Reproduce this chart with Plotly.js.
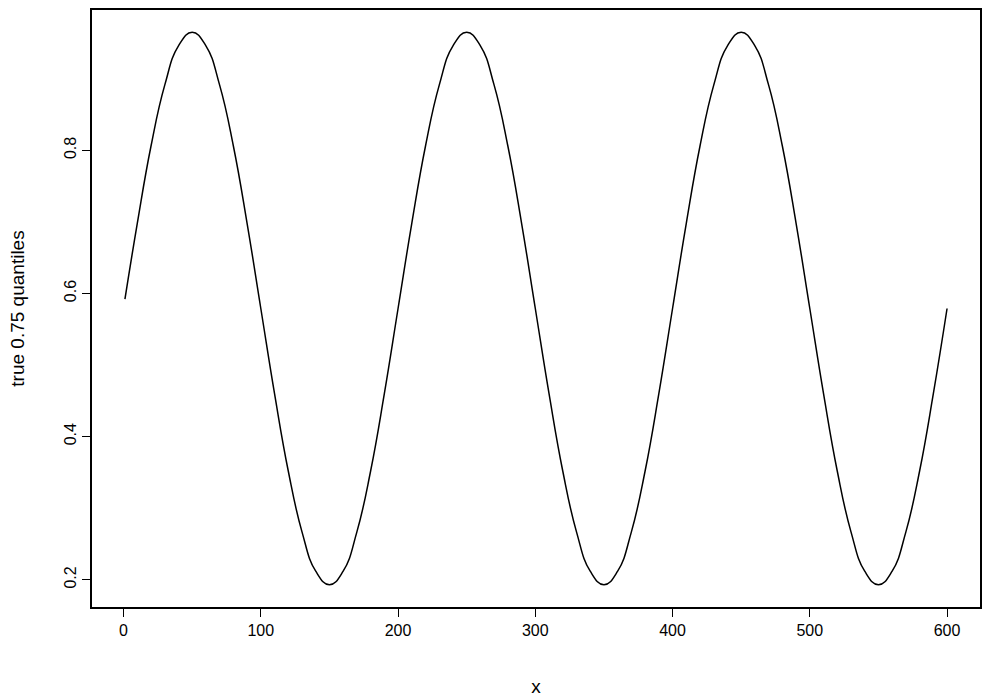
<!DOCTYPE html>
<html>
<head>
<script src="https://cdn.plot.ly/plotly-3.0.1.min.js"></script>
<style>body{margin:0}</style>
</head>
<body>
<div id="chart" style="width:992px;height:698px"></div>
<script>
// values every 10 units of x
var xs = [1,10,20,30,40,50,60,70,80,90,100,110,120,130,140,150,160,170,180,190,
          200,210,220,230,240,250,260,270,280,290,300,310,320,330,340,350,360,370,380,390,
          400,410,420,430,440,450,460,470,480,490,500,510,520,530,540,550,560,570,580,590,600];
var q75 = [0.592,0.698,0.806,0.891,0.946,0.965,0.946,0.891,0.806,0.698,0.579,0.460,0.352,0.267,0.212,0.193,0.212,0.267,0.352,0.460,
           0.579,0.698,0.806,0.891,0.946,0.965,0.946,0.891,0.806,0.698,0.579,0.460,0.352,0.267,0.212,0.193,0.212,0.267,0.352,0.460,
           0.579,0.698,0.806,0.891,0.946,0.965,0.946,0.891,0.806,0.698,0.579,0.460,0.352,0.267,0.212,0.193,0.212,0.267,0.352,0.460,0.579];

var trace = {
  x: xs, y: q75, type: 'scatter', mode: 'lines',
  line: {color: 'black', width: 1.5, shape: 'spline', smoothing: 1.3}
};

var layout = {
  width: 992, height: 698,
  margin: {l: 92, r: 12, t: 10, b: 91},
  paper_bgcolor: 'white', plot_bgcolor: 'white',
  font: {family: 'Liberation Sans, Arial', size: 16, color: 'black'},
  showlegend: false,
  xaxis: {
    range: [-23, 624], tickvals: [0,100,200,300,400,500,600],
    showgrid: false, zeroline: false, showline: true, mirror: true, linecolor: 'black', linewidth: 1.5,
    ticks: 'outside', ticklen: 8, tickcolor: 'black',
    title: {text: 'x', standoff: 42}
  },
  yaxis: {
    range: [0.162, 0.996], tickvals: [0.2,0.4,0.6,0.8], ticktext: ['0.2','0.4','0.6','0.8'],
    tickangle: -90,
    showgrid: false, zeroline: false, showline: true, mirror: true, linecolor: 'black', linewidth: 1.5,
    ticks: 'outside', ticklen: 8, tickcolor: 'black',
    title: {text: 'true 0.75 quantiles', standoff: 32}
  }
};

Plotly.newPlot('chart', [trace], layout, {displayModeBar: false});
</script>
</body>
</html>
